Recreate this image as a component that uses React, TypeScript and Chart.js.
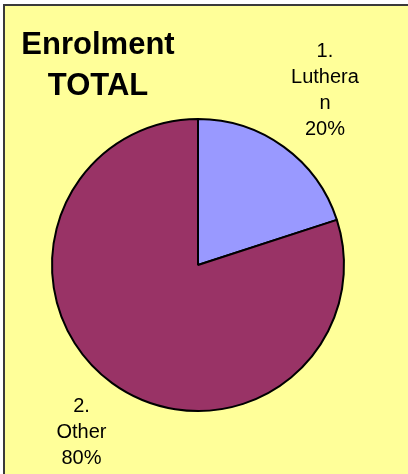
import React, { useEffect, useRef } from "react";
import { Chart, registerables } from "chart.js";

Chart.register(...registerables);

const categories = ["1. Lutheran", "2. Other"];
const enrolment = [20, 80];
const labelLines = [
  ["1.", "Luthera", "n"],
  ["2.", "Other"],
];
const titleLines = ["Enrolment", "TOTAL"];
const sliceColors = ["#9999FF", "#993366"];

const FONT = "'Liberation Sans', Arial, sans-serif";

const framePlugin = {
  id: "frame",
  beforeDraw(chart: any) {
    const { ctx, width, height } = chart;
    ctx.save();
    ctx.fillStyle = "#ffffff";
    ctx.fillRect(0, 0, width, height);
    ctx.fillStyle = "#FFFF99";
    ctx.fillRect(3, 4, width - 3, height - 4);
    ctx.strokeStyle = "#3a3a3a";
    ctx.lineWidth = 2;
    ctx.beginPath();
    ctx.moveTo(4, height);
    ctx.lineTo(4, 5);
    ctx.lineTo(width, 5);
    ctx.stroke();
    ctx.restore();
  },
  afterDraw(chart: any) {
    const { ctx } = chart;
    ctx.save();
    ctx.fillStyle = "#000000";
    ctx.textAlign = "center";
    ctx.textBaseline = "alphabetic";
    ctx.font = `bold 31px ${FONT}`;
    titleLines.forEach((t, i) => ctx.fillText(t, 98, 54 + i * 41));
    const meta = chart.getDatasetMeta(0);
    const total = enrolment.reduce((a, b) => a + b, 0);
    const dists = [70, 59];
    const shifts = [[0, 0], [4, 2]];
    ctx.font = `20px ${FONT}`;
    ctx.textBaseline = "middle";
    meta.data.forEach((arc: any, i: number) => {
      const p = arc.getProps(["x", "y", "startAngle", "endAngle", "outerRadius"], true);
      const mid = (p.startAngle + p.endAngle) / 2;
      const d = p.outerRadius + dists[i];
      const cx = p.x + Math.cos(mid) * d + shifts[i][0];
      const cy = p.y + Math.sin(mid) * d + shifts[i][1];
      const lines = [...labelLines[i], Math.round((enrolment[i] / total) * 100) + "%"];
      const lh = 26;
      const y0 = cy - ((lines.length - 1) * lh) / 2;
      lines.forEach((l, j) => ctx.fillText(l, cx, y0 + j * lh));
    });
    ctx.restore();
  },
};

export default function App() {
  const ref = useRef<HTMLCanvasElement>(null);
  useEffect(() => {
    document.body.style.margin = "0";
    document.body.style.overflow = "hidden";
    if (!ref.current) return;
    const chart = new Chart(ref.current, {
      type: "pie",
      data: {
        labels: categories,
        datasets: [
          {
            data: enrolment,
            backgroundColor: sliceColors,
            borderColor: "#000000",
            borderWidth: 2,
          },
        ],
      },
      options: {
        animation: false,
        responsive: false,
        radius: 146,
        layout: { padding: { left: 0, right: 12, top: 56, bottom: 0 } },
        plugins: {
          legend: { display: false },
          title: { display: false },
          tooltip: { enabled: false },
        },
      } as any,
      plugins: [framePlugin],
    });
    return () => chart.destroy();
  }, []);
  return (
    <div style={{ position: "fixed", left: 0, top: 0, width: 408, height: 474 }}>
      <canvas ref={ref} width={408} height={474} style={{ display: "block" }} />
    </div>
  );
}
